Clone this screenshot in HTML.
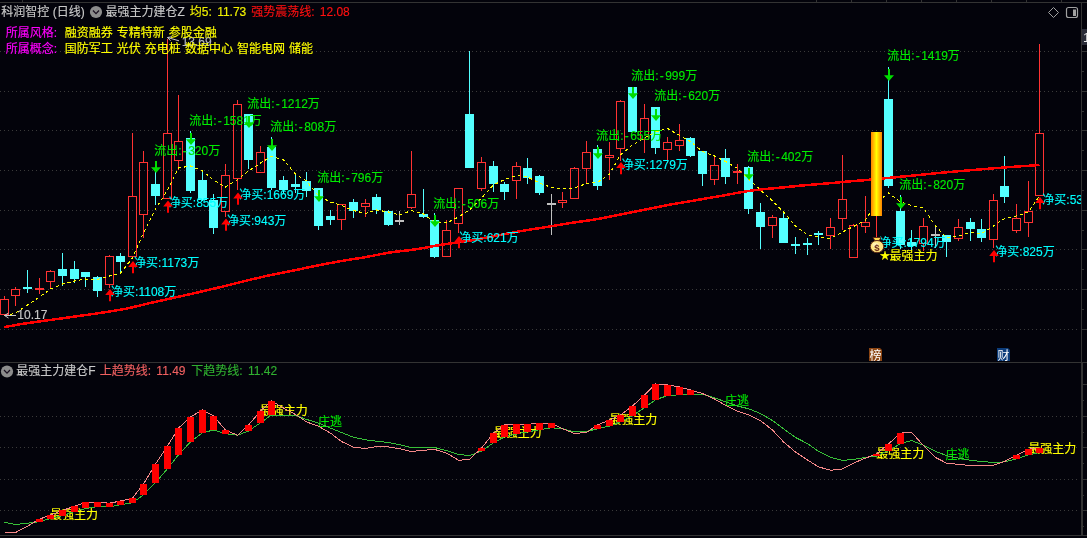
<!DOCTYPE html>
<html lang="zh-CN"><head><meta charset="utf-8"><title>科润智控 (日线)</title>
<style>
html,body{margin:0;padding:0;background:#03030b;}
body{width:1087px;height:538px;overflow:hidden;position:relative;font-family:"Liberation Sans","Noto Sans CJK SC",sans-serif;font-size:12px;}
svg text{white-space:pre;}
</style></head><body>
<svg width="1087" height="538" viewBox="0 0 1087 538" style="position:absolute;left:0;top:0" font-family='"Liberation Sans","Noto Sans CJK SC",sans-serif' font-size="12">
<rect x="0" y="0" width="1087" height="538" fill="#03030b"/>
<g stroke="#3a3a3a" stroke-width="1" stroke-dasharray="1 3" shape-rendering="crispEdges">
<line x1="0" y1="51.5" x2="1077" y2="51.5"/>
<line x1="0" y1="91.5" x2="1077" y2="91.5"/>
<line x1="0" y1="130.5" x2="1077" y2="130.5"/>
<line x1="0" y1="170.5" x2="1077" y2="170.5"/>
<line x1="0" y1="210.5" x2="1077" y2="210.5"/>
<line x1="0" y1="249.5" x2="1077" y2="249.5"/>
<line x1="0" y1="289.5" x2="1077" y2="289.5"/>
<line x1="0" y1="329.5" x2="1077" y2="329.5"/>
<line x1="0" y1="416.5" x2="1077" y2="416.5"/>
<line x1="0" y1="447.5" x2="1077" y2="447.5"/>
<line x1="0" y1="479.5" x2="1077" y2="479.5"/>
<line x1="0" y1="510.5" x2="1077" y2="510.5"/>
</g>
<g stroke="#333333" stroke-width="1" shape-rendering="crispEdges">
<line x1="0" y1="2.5" x2="1087" y2="2.5"/>
<line x1="0" y1="362.5" x2="1087" y2="362.5"/>
<line x1="0" y1="535.5" x2="1087" y2="535.5"/>
<line x1="1081.5" y1="3" x2="1081.5" y2="536"/>
<line x1="1082.5" y1="362" x2="1082.5" y2="536"/>
<line x1="22.5" y1="0" x2="22.5" y2="2"/>
<line x1="816.5" y1="0" x2="816.5" y2="2"/>
<line x1="851.5" y1="0" x2="851.5" y2="2"/>
<line x1="886.5" y1="0" x2="886.5" y2="2"/>
<line x1="921.5" y1="0" x2="921.5" y2="2"/>
<line x1="956.5" y1="0" x2="956.5" y2="2"/>
<line x1="991.5" y1="0" x2="991.5" y2="2"/>
<line x1="1026.5" y1="0" x2="1026.5" y2="2"/>
<line x1="1061.5" y1="0" x2="1061.5" y2="2"/>
<line x1="1082" y1="51.5" x2="1087" y2="51.5"/>
<line x1="1082" y1="91.5" x2="1087" y2="91.5"/>
<line x1="1082" y1="130.5" x2="1087" y2="130.5"/>
<line x1="1082" y1="170.5" x2="1087" y2="170.5"/>
<line x1="1082" y1="210.5" x2="1087" y2="210.5"/>
<line x1="1082" y1="249.5" x2="1087" y2="249.5"/>
<line x1="1082" y1="289.5" x2="1087" y2="289.5"/>
<line x1="1082" y1="329.5" x2="1087" y2="329.5"/>
<line x1="1082" y1="71.5" x2="1084" y2="71.5"/>
<line x1="1082" y1="111.5" x2="1084" y2="111.5"/>
<line x1="1082" y1="150.5" x2="1084" y2="150.5"/>
<line x1="1082" y1="190.5" x2="1084" y2="190.5"/>
<line x1="1082" y1="230.5" x2="1084" y2="230.5"/>
<line x1="1082" y1="269.5" x2="1084" y2="269.5"/>
<line x1="1082" y1="309.5" x2="1084" y2="309.5"/>
<line x1="1083" y1="384.5" x2="1087" y2="384.5"/>
<line x1="1083" y1="416.5" x2="1087" y2="416.5"/>
<line x1="1083" y1="447.5" x2="1087" y2="447.5"/>
<line x1="1083" y1="479.5" x2="1087" y2="479.5"/>
<line x1="1083" y1="510.5" x2="1087" y2="510.5"/>
<line x1="1083" y1="400.5" x2="1084" y2="400.5"/>
<line x1="1083" y1="432.5" x2="1084" y2="432.5"/>
<line x1="1083" y1="463.5" x2="1084" y2="463.5"/>
<line x1="1083" y1="495.5" x2="1084" y2="495.5"/>
<line x1="1083" y1="526.5" x2="1084" y2="526.5"/>
</g>
<rect x="1082" y="29" width="5" height="16" fill="#2a2c38"/>
<text x="1083" y="42" fill="#e8e8e8" font-size="13">11.73</text>
<g shape-rendering="crispEdges">
<rect x="4" y="296" width="1" height="3" fill="#ff3232"/>
<rect x="4" y="315" width="1" height="0" fill="#ff3232"/>
<rect x="0.5" y="299.5" width="8" height="15" fill="none" stroke="#ff3232" stroke-width="1"/>
<rect x="15" y="287" width="1" height="2" fill="#ff3232"/>
<rect x="15" y="296" width="1" height="10" fill="#ff3232"/>
<rect x="11.5" y="289.5" width="8" height="6" fill="none" stroke="#ff3232" stroke-width="1"/>
<rect x="27" y="270" width="1" height="23" fill="#54ffff"/>
<rect x="23" y="287" width="9" height="2" fill="#54ffff"/>
<rect x="39" y="278" width="1" height="16" fill="#ff3232"/>
<rect x="35" y="288" width="9" height="2" fill="#ff3232"/>
<rect x="50" y="270" width="1" height="1" fill="#ff3232"/>
<rect x="50" y="282" width="1" height="6" fill="#ff3232"/>
<rect x="46.5" y="271.5" width="8" height="10" fill="none" stroke="#ff3232" stroke-width="1"/>
<rect x="62" y="253" width="1" height="33" fill="#54ffff"/>
<rect x="58" y="269" width="9" height="7" fill="#54ffff"/>
<rect x="74" y="261" width="1" height="22" fill="#54ffff"/>
<rect x="70" y="269" width="9" height="10" fill="#54ffff"/>
<rect x="85" y="272" width="1" height="15" fill="#54ffff"/>
<rect x="81" y="272" width="9" height="5" fill="#54ffff"/>
<rect x="97" y="276" width="1" height="21" fill="#54ffff"/>
<rect x="93" y="277" width="9" height="14" fill="#54ffff"/>
<rect x="109" y="255" width="1" height="1" fill="#ff3232"/>
<rect x="109" y="285" width="1" height="3" fill="#ff3232"/>
<rect x="105.5" y="256.5" width="8" height="28" fill="none" stroke="#ff3232" stroke-width="1"/>
<rect x="120" y="253" width="1" height="20" fill="#54ffff"/>
<rect x="116" y="256" width="9" height="6" fill="#54ffff"/>
<rect x="132" y="133" width="1" height="63" fill="#ff3232"/>
<rect x="132" y="257" width="1" height="0" fill="#ff3232"/>
<rect x="128.5" y="196.5" width="8" height="60" fill="none" stroke="#ff3232" stroke-width="1"/>
<rect x="143" y="151" width="1" height="11" fill="#ff3232"/>
<rect x="143" y="215" width="1" height="23" fill="#ff3232"/>
<rect x="139.5" y="162.5" width="8" height="52" fill="none" stroke="#ff3232" stroke-width="1"/>
<rect x="155" y="161" width="1" height="44" fill="#54ffff"/>
<rect x="151" y="184" width="9" height="12" fill="#54ffff"/>
<rect x="167" y="39" width="1" height="94" fill="#ff3232"/>
<rect x="167" y="199" width="1" height="0" fill="#ff3232"/>
<rect x="163.5" y="133.5" width="8" height="65" fill="none" stroke="#ff3232" stroke-width="1"/>
<rect x="178" y="95" width="1" height="46" fill="#ff3232"/>
<rect x="178" y="161" width="1" height="9" fill="#ff3232"/>
<rect x="174.5" y="141.5" width="8" height="19" fill="none" stroke="#ff3232" stroke-width="1"/>
<rect x="190" y="131" width="1" height="62" fill="#54ffff"/>
<rect x="186" y="138" width="9" height="53" fill="#54ffff"/>
<rect x="202" y="170" width="1" height="31" fill="#54ffff"/>
<rect x="198" y="180" width="9" height="20" fill="#54ffff"/>
<rect x="213" y="194" width="1" height="40" fill="#54ffff"/>
<rect x="209" y="200" width="9" height="28" fill="#54ffff"/>
<rect x="225" y="164" width="1" height="11" fill="#ff3232"/>
<rect x="225" y="212" width="1" height="5" fill="#ff3232"/>
<rect x="221.5" y="175.5" width="8" height="36" fill="none" stroke="#ff3232" stroke-width="1"/>
<rect x="237" y="100" width="1" height="4" fill="#ff3232"/>
<rect x="237" y="179" width="1" height="11" fill="#ff3232"/>
<rect x="233.5" y="104.5" width="8" height="74" fill="none" stroke="#ff3232" stroke-width="1"/>
<rect x="248" y="114" width="1" height="55" fill="#54ffff"/>
<rect x="244" y="114" width="9" height="46" fill="#54ffff"/>
<rect x="260" y="146" width="1" height="6" fill="#ff3232"/>
<rect x="260" y="173" width="1" height="0" fill="#ff3232"/>
<rect x="256.5" y="152.5" width="8" height="20" fill="none" stroke="#ff3232" stroke-width="1"/>
<rect x="271" y="137" width="1" height="53" fill="#54ffff"/>
<rect x="267" y="147" width="9" height="41" fill="#54ffff"/>
<rect x="283" y="176" width="1" height="17" fill="#54ffff"/>
<rect x="279" y="180" width="9" height="10" fill="#54ffff"/>
<rect x="295" y="174" width="1" height="19" fill="#54ffff"/>
<rect x="291" y="184" width="9" height="3" fill="#54ffff"/>
<rect x="306" y="172" width="1" height="25" fill="#54ffff"/>
<rect x="302" y="181" width="9" height="10" fill="#54ffff"/>
<rect x="318" y="188" width="1" height="42" fill="#54ffff"/>
<rect x="314" y="188" width="9" height="38" fill="#54ffff"/>
<rect x="330" y="210" width="1" height="15" fill="#54ffff"/>
<rect x="326" y="216" width="9" height="4" fill="#54ffff"/>
<rect x="341" y="204" width="1" height="0" fill="#ff3232"/>
<rect x="341" y="220" width="1" height="10" fill="#ff3232"/>
<rect x="337.5" y="204.5" width="8" height="15" fill="none" stroke="#ff3232" stroke-width="1"/>
<rect x="353" y="199" width="1" height="19" fill="#54ffff"/>
<rect x="349" y="202" width="9" height="9" fill="#54ffff"/>
<rect x="365" y="199" width="1" height="4" fill="#ff3232"/>
<rect x="365" y="207" width="1" height="10" fill="#ff3232"/>
<rect x="361.5" y="203.5" width="8" height="3" fill="none" stroke="#ff3232" stroke-width="1"/>
<rect x="376" y="194" width="1" height="20" fill="#54ffff"/>
<rect x="372" y="197" width="9" height="13" fill="#54ffff"/>
<rect x="388" y="210" width="1" height="16" fill="#54ffff"/>
<rect x="384" y="211" width="9" height="14" fill="#54ffff"/>
<rect x="399" y="211" width="1" height="14" fill="#c0c0c0"/>
<rect x="395" y="220" width="9" height="2" fill="#c0c0c0"/>
<rect x="411" y="151" width="1" height="43" fill="#ff3232"/>
<rect x="411" y="208" width="1" height="1" fill="#ff3232"/>
<rect x="407.5" y="194.5" width="8" height="13" fill="none" stroke="#ff3232" stroke-width="1"/>
<rect x="423" y="189" width="1" height="29" fill="#54ffff"/>
<rect x="419" y="214" width="9" height="3" fill="#54ffff"/>
<rect x="434" y="213" width="1" height="45" fill="#54ffff"/>
<rect x="430" y="220" width="9" height="37" fill="#54ffff"/>
<rect x="446" y="220" width="1" height="10" fill="#ff3232"/>
<rect x="446" y="257" width="1" height="0" fill="#ff3232"/>
<rect x="442.5" y="230.5" width="8" height="26" fill="none" stroke="#ff3232" stroke-width="1"/>
<rect x="458" y="188" width="1" height="0" fill="#ff3232"/>
<rect x="458" y="224" width="1" height="9" fill="#ff3232"/>
<rect x="454.5" y="188.5" width="8" height="35" fill="none" stroke="#ff3232" stroke-width="1"/>
<rect x="469" y="51" width="1" height="117" fill="#54ffff"/>
<rect x="465" y="114" width="9" height="54" fill="#54ffff"/>
<rect x="481" y="157" width="1" height="5" fill="#ff3232"/>
<rect x="481" y="189" width="1" height="2" fill="#ff3232"/>
<rect x="477.5" y="162.5" width="8" height="26" fill="none" stroke="#ff3232" stroke-width="1"/>
<rect x="493" y="161" width="1" height="31" fill="#54ffff"/>
<rect x="489" y="166" width="9" height="18" fill="#54ffff"/>
<rect x="504" y="182" width="1" height="18" fill="#54ffff"/>
<rect x="500" y="184" width="9" height="8" fill="#54ffff"/>
<rect x="516" y="162" width="1" height="4" fill="#ff3232"/>
<rect x="516" y="181" width="1" height="18" fill="#ff3232"/>
<rect x="512.5" y="166.5" width="8" height="14" fill="none" stroke="#ff3232" stroke-width="1"/>
<rect x="527" y="158" width="1" height="26" fill="#54ffff"/>
<rect x="523" y="168" width="9" height="10" fill="#54ffff"/>
<rect x="539" y="175" width="1" height="20" fill="#54ffff"/>
<rect x="535" y="176" width="9" height="17" fill="#54ffff"/>
<rect x="551" y="194" width="1" height="41" fill="#c0c0c0"/>
<rect x="547" y="203" width="9" height="2" fill="#c0c0c0"/>
<rect x="562" y="192" width="1" height="8" fill="#ff3232"/>
<rect x="562" y="203" width="1" height="5" fill="#ff3232"/>
<rect x="558.5" y="200.5" width="8" height="2" fill="none" stroke="#ff3232" stroke-width="1"/>
<rect x="574" y="167" width="1" height="1" fill="#ff3232"/>
<rect x="574" y="199" width="1" height="0" fill="#ff3232"/>
<rect x="570.5" y="168.5" width="8" height="30" fill="none" stroke="#ff3232" stroke-width="1"/>
<rect x="586" y="141" width="1" height="11" fill="#ff3232"/>
<rect x="586" y="169" width="1" height="15" fill="#ff3232"/>
<rect x="582.5" y="152.5" width="8" height="16" fill="none" stroke="#ff3232" stroke-width="1"/>
<rect x="597" y="145" width="1" height="45" fill="#54ffff"/>
<rect x="593" y="149" width="9" height="37" fill="#54ffff"/>
<rect x="609" y="142" width="1" height="13" fill="#ff3232"/>
<rect x="609" y="158" width="1" height="22" fill="#ff3232"/>
<rect x="605.5" y="155.5" width="8" height="2" fill="none" stroke="#ff3232" stroke-width="1"/>
<rect x="620" y="100" width="1" height="1" fill="#ff3232"/>
<rect x="620" y="149" width="1" height="12" fill="#ff3232"/>
<rect x="616.5" y="101.5" width="8" height="47" fill="none" stroke="#ff3232" stroke-width="1"/>
<rect x="632" y="87" width="1" height="45" fill="#54ffff"/>
<rect x="628" y="87" width="9" height="45" fill="#54ffff"/>
<rect x="644" y="104" width="1" height="14" fill="#ff3232"/>
<rect x="644" y="140" width="1" height="13" fill="#ff3232"/>
<rect x="640.5" y="118.5" width="8" height="21" fill="none" stroke="#ff3232" stroke-width="1"/>
<rect x="655" y="107" width="1" height="47" fill="#54ffff"/>
<rect x="651" y="107" width="9" height="41" fill="#54ffff"/>
<rect x="667" y="137" width="1" height="5" fill="#ff3232"/>
<rect x="667" y="150" width="1" height="13" fill="#ff3232"/>
<rect x="663.5" y="142.5" width="8" height="7" fill="none" stroke="#ff3232" stroke-width="1"/>
<rect x="679" y="124" width="1" height="16" fill="#ff3232"/>
<rect x="679" y="146" width="1" height="5" fill="#ff3232"/>
<rect x="675.5" y="140.5" width="8" height="5" fill="none" stroke="#ff3232" stroke-width="1"/>
<rect x="690" y="137" width="1" height="20" fill="#54ffff"/>
<rect x="686" y="138" width="9" height="18" fill="#54ffff"/>
<rect x="702" y="151" width="1" height="35" fill="#54ffff"/>
<rect x="698" y="151" width="9" height="23" fill="#54ffff"/>
<rect x="714" y="157" width="1" height="8" fill="#ff3232"/>
<rect x="714" y="180" width="1" height="5" fill="#ff3232"/>
<rect x="710.5" y="165.5" width="8" height="14" fill="none" stroke="#ff3232" stroke-width="1"/>
<rect x="725" y="149" width="1" height="35" fill="#54ffff"/>
<rect x="721" y="158" width="9" height="19" fill="#54ffff"/>
<rect x="737" y="164" width="1" height="20" fill="#ff3232"/>
<rect x="733" y="171" width="9" height="2" fill="#ff3232"/>
<rect x="748" y="166" width="1" height="48" fill="#54ffff"/>
<rect x="744" y="167" width="9" height="42" fill="#54ffff"/>
<rect x="760" y="203" width="1" height="46" fill="#54ffff"/>
<rect x="756" y="212" width="9" height="15" fill="#54ffff"/>
<rect x="772" y="215" width="1" height="2" fill="#ff3232"/>
<rect x="772" y="226" width="1" height="12" fill="#ff3232"/>
<rect x="768.5" y="217.5" width="8" height="8" fill="none" stroke="#ff3232" stroke-width="1"/>
<rect x="783" y="211" width="1" height="32" fill="#54ffff"/>
<rect x="779" y="218" width="9" height="25" fill="#54ffff"/>
<rect x="795" y="237" width="1" height="17" fill="#54ffff"/>
<rect x="791" y="244" width="9" height="2" fill="#54ffff"/>
<rect x="807" y="238" width="1" height="17" fill="#54ffff"/>
<rect x="803" y="243" width="9" height="2" fill="#54ffff"/>
<rect x="818" y="231" width="1" height="14" fill="#54ffff"/>
<rect x="814" y="233" width="9" height="2" fill="#54ffff"/>
<rect x="830" y="218" width="1" height="9" fill="#ff3232"/>
<rect x="830" y="236" width="1" height="13" fill="#ff3232"/>
<rect x="826.5" y="227.5" width="8" height="8" fill="none" stroke="#ff3232" stroke-width="1"/>
<rect x="842" y="155" width="1" height="44" fill="#ff3232"/>
<rect x="842" y="219" width="1" height="11" fill="#ff3232"/>
<rect x="838.5" y="199.5" width="8" height="19" fill="none" stroke="#ff3232" stroke-width="1"/>
<rect x="853" y="224" width="1" height="1" fill="#ff3232"/>
<rect x="853" y="258" width="1" height="0" fill="#ff3232"/>
<rect x="849.5" y="225.5" width="8" height="32" fill="none" stroke="#ff3232" stroke-width="1"/>
<rect x="865" y="196" width="1" height="26" fill="#ff3232"/>
<rect x="865" y="227" width="1" height="6" fill="#ff3232"/>
<rect x="861.5" y="222.5" width="8" height="4" fill="none" stroke="#ff3232" stroke-width="1"/>
<rect x="876" y="216" width="1" height="21" fill="#ff3232"/>
<rect x="888" y="67" width="1" height="121" fill="#54ffff"/>
<rect x="884" y="99" width="9" height="87" fill="#54ffff"/>
<rect x="900" y="195" width="1" height="54" fill="#54ffff"/>
<rect x="896" y="211" width="9" height="34" fill="#54ffff"/>
<rect x="911" y="230" width="1" height="20" fill="#54ffff"/>
<rect x="907" y="242" width="9" height="4" fill="#54ffff"/>
<rect x="923" y="218" width="1" height="8" fill="#ff3232"/>
<rect x="923" y="244" width="1" height="7" fill="#ff3232"/>
<rect x="919.5" y="226.5" width="8" height="17" fill="none" stroke="#ff3232" stroke-width="1"/>
<rect x="935" y="225" width="1" height="23" fill="#c0c0c0"/>
<rect x="931" y="234" width="9" height="2" fill="#c0c0c0"/>
<rect x="946" y="235" width="1" height="22" fill="#54ffff"/>
<rect x="942" y="235" width="9" height="7" fill="#54ffff"/>
<rect x="958" y="219" width="1" height="8" fill="#ff3232"/>
<rect x="958" y="239" width="1" height="2" fill="#ff3232"/>
<rect x="954.5" y="227.5" width="8" height="11" fill="none" stroke="#ff3232" stroke-width="1"/>
<rect x="970" y="218" width="1" height="23" fill="#54ffff"/>
<rect x="966" y="222" width="9" height="7" fill="#54ffff"/>
<rect x="981" y="219" width="1" height="23" fill="#54ffff"/>
<rect x="977" y="229" width="9" height="9" fill="#54ffff"/>
<rect x="993" y="194" width="1" height="6" fill="#ff3232"/>
<rect x="993" y="240" width="1" height="8" fill="#ff3232"/>
<rect x="989.5" y="200.5" width="8" height="39" fill="none" stroke="#ff3232" stroke-width="1"/>
<rect x="1004" y="156" width="1" height="47" fill="#54ffff"/>
<rect x="1000" y="186" width="9" height="11" fill="#54ffff"/>
<rect x="1016" y="204" width="1" height="14" fill="#ff3232"/>
<rect x="1016" y="231" width="1" height="2" fill="#ff3232"/>
<rect x="1012.5" y="218.5" width="8" height="12" fill="none" stroke="#ff3232" stroke-width="1"/>
<rect x="1028" y="181" width="1" height="30" fill="#ff3232"/>
<rect x="1028" y="223" width="1" height="14" fill="#ff3232"/>
<rect x="1024.5" y="211.5" width="8" height="11" fill="none" stroke="#ff3232" stroke-width="1"/>
<rect x="1039" y="44" width="1" height="89" fill="#ff3232"/>
<rect x="1039" y="196" width="1" height="0" fill="#ff3232"/>
<rect x="1035.5" y="133.5" width="8" height="62" fill="none" stroke="#ff3232" stroke-width="1"/>
</g>
<path d="M4.4,327.1 C7.8,326.5 17.4,324.7 25,323.5 C32.6,322.3 41.7,321.2 50,320 C58.3,318.8 66.7,317.7 75,316.5 C83.3,315.3 91.7,314.3 100,313 C108.3,311.7 116.7,310.5 125,308.9 C133.3,307.2 141.7,305.0 150,303.1 C158.3,301.2 166.7,299.4 175,297.5 C183.3,295.6 191.7,293.8 200,291.9 C208.3,290.0 217.5,287.8 225,286 C232.5,284.2 237.5,282.8 245,281 C252.5,279.2 261.7,277.0 270,275.25 C278.3,273.5 286.7,272.0 295,270.25 C303.3,268.5 311.7,266.6 320,265 C328.3,263.4 337.5,261.7 345,260.4 C352.5,259.1 357.5,258.6 365,257.25 C372.5,255.9 381.7,253.8 390,252.5 C398.3,251.2 406.7,250.7 415,249.4 C423.3,248.2 430.8,246.5 440,245 C449.2,243.5 460.8,242.1 470,240.6 C479.2,239.1 486.7,237.6 495,236 C503.3,234.4 511.7,232.7 520,231.25 C528.3,229.8 536.7,228.6 545,227.25 C553.3,225.9 561.7,224.4 570,223.1 C578.3,221.8 587.5,220.7 595,219.4 C602.5,218.2 607.5,217.1 615,215.6 C622.5,214.1 631.7,212.3 640,210.6 C648.3,208.9 656.7,207.2 665,205.6 C673.3,204.0 681.7,202.7 690,201.25 C698.3,199.8 709.0,197.9 715,196.9 C721.0,195.9 720.0,196.1 726,195 C732.0,193.9 742.7,191.8 751,190.6 C759.3,189.4 767.7,188.9 776,188.1 C784.3,187.3 792.7,186.4 801,185.6 C809.3,184.8 817.7,184.2 826,183.5 C834.3,182.8 845.0,181.8 851,181.25 C857.0,180.7 855.8,180.9 862,180.4 C868.2,179.9 874.8,179.3 888,178 C901.2,176.7 928.0,174.0 941,172.8 C954.0,171.6 955.5,171.5 966,170.6 C976.5,169.7 991.8,168.4 1004,167.5 C1016.2,166.6 1033.6,165.4 1039.5,165" fill="none" stroke="#ff0000" stroke-width="2.5" shape-rendering="crispEdges"/>
<path d="M4.5,316 L15.5,313 L27.5,305 L39.5,297 L50.5,289 L62.5,284 L74.5,281 L85.5,279 L97.5,279.5 L109.5,276 L120.5,273 L132.5,258 L143.5,233 L155.5,209 L167.5,190 L178.5,168 L190.5,166 L202.5,171 L213.5,180 L225.5,187 L237.5,179.5 L248.5,171 L260.5,163 L271.5,156.5 L283.5,160 L295.5,174 L306.5,181 L318.5,196 L330.5,202 L341.5,205.5 L353.5,210.5 L365.5,213.5 L376.5,210 L388.5,212 L399.5,215 L411.5,210.5 L423.5,214 L434.5,222 L446.5,223 L458.5,217 L469.5,210 L481.5,198 L493.5,185 L504.5,179.5 L516.5,175.5 L527.5,177 L539.5,183 L551.5,187.5 L562.5,188.5 L574.5,188 L586.5,183.5 L597.5,182.5 L609.5,174 L620.5,155 L632.5,145 L644.5,138 L655.5,132 L667.5,128.5 L679.5,135.5 L690.5,141.5 L702.5,151.5 L714.5,156 L725.5,161.5 L737.5,168.5 L748.5,179 L760.5,190 L772.5,201 L783.5,212 L795.5,226 L807.5,235 L818.5,237 L830.5,238.5 L842.5,232 L853.5,226.5 L865.5,220 L876.5,203 L888.5,193 L900.5,202 L911.5,205.5 L923.5,208 L935.5,226 L946.5,237.5 L958.5,236 L970.5,232.5 L981.5,233.5 L993.5,226 L1004.5,218.5 L1016.5,216 L1028.5,212 L1039.5,196" fill="none" stroke="#ffff00" stroke-width="1" stroke-dasharray="3 3" shape-rendering="crispEdges"/>
<defs><linearGradient id="og" x1="0" x2="1" y1="0" y2="0"><stop offset="0" stop-color="#ff8000"/><stop offset="0.5" stop-color="#ffff00"/><stop offset="1" stop-color="#ff8000"/></linearGradient></defs>
<rect x="871" y="132" width="11" height="84" fill="url(#og)" shape-rendering="crispEdges"/>
<path d="M4.5,315.5 H16 M4.5,315.5 l4,-2.5 M4.5,315.5 l4,2.5" stroke="#c8c8c8" stroke-width="1" fill="none"/>
<text x="17.3" y="318.9" fill="#c8c8c8" stroke="#c8c8c8" stroke-width="0.15">10.17</text>
<path d="M167.5,37.5 L179,40.8 M167.5,37.5 l4.5,-0.8 M167.5,37.5 l3,3.2" stroke="#c8c8c8" stroke-width="1" fill="none"/>
<text x="181.7" y="45.9" fill="#b0b4c0" stroke="#b0b4c0" stroke-width="0.15">13.69</text>
<text x="154.3" y="155.0" fill="#00ea00" stroke="#00ea00" stroke-width="0.15">流出:<tspan dx="1.2">-</tspan><tspan dx="1.3">320万</tspan></text>
<text x="189.3" y="124.8" fill="#00ea00" stroke="#00ea00" stroke-width="0.15">流出:<tspan dx="1.2">-</tspan><tspan dx="1.3">1581万</tspan></text>
<text x="247.3" y="107.7" fill="#00ea00" stroke="#00ea00" stroke-width="0.15">流出:<tspan dx="1.2">-</tspan><tspan dx="1.3">1212万</tspan></text>
<text x="270.3" y="130.8" fill="#00ea00" stroke="#00ea00" stroke-width="0.15">流出:<tspan dx="1.2">-</tspan><tspan dx="1.3">808万</tspan></text>
<text x="317.3" y="181.8" fill="#00ea00" stroke="#00ea00" stroke-width="0.15">流出:<tspan dx="1.2">-</tspan><tspan dx="1.3">796万</tspan></text>
<text x="433.3" y="207.7" fill="#00ea00" stroke="#00ea00" stroke-width="0.15">流出:<tspan dx="1.2">-</tspan><tspan dx="1.3">506万</tspan></text>
<text x="596.3" y="139.8" fill="#00ea00" stroke="#00ea00" stroke-width="0.15">流出:<tspan dx="1.2">-</tspan><tspan dx="1.3">655万</tspan></text>
<text x="631.3" y="79.8" fill="#00ea00" stroke="#00ea00" stroke-width="0.15">流出:<tspan dx="1.2">-</tspan><tspan dx="1.3">999万</tspan></text>
<text x="654.3" y="99.6" fill="#00ea00" stroke="#00ea00" stroke-width="0.15">流出:<tspan dx="1.2">-</tspan><tspan dx="1.3">620万</tspan></text>
<text x="747.3" y="160.8" fill="#00ea00" stroke="#00ea00" stroke-width="0.15">流出:<tspan dx="1.2">-</tspan><tspan dx="1.3">402万</tspan></text>
<text x="887.3" y="59.6" fill="#00ea00" stroke="#00ea00" stroke-width="0.15">流出:<tspan dx="1.2">-</tspan><tspan dx="1.3">1419万</tspan></text>
<text x="899.3" y="188.8" fill="#00ea00" stroke="#00ea00" stroke-width="0.15">流出:<tspan dx="1.2">-</tspan><tspan dx="1.3">820万</tspan></text>
<text x="111.1" y="296.3" fill="#00ffff" stroke="#00ffff" stroke-width="0.15">净买:1108万</text>
<text x="134.1" y="267.0" fill="#00ffff" stroke="#00ffff" stroke-width="0.15">净买:1173万</text>
<text x="168.8" y="206.8" fill="#00ffff" stroke="#00ffff" stroke-width="0.15">净买:855万</text>
<text x="227.0" y="224.6" fill="#00ffff" stroke="#00ffff" stroke-width="0.15">净买:943万</text>
<text x="239.3" y="198.7" fill="#00ffff" stroke="#00ffff" stroke-width="0.15">净买:1669万</text>
<text x="459.3" y="241.9" fill="#00ffff" stroke="#00ffff" stroke-width="0.15">净买:621万</text>
<text x="621.8" y="168.7" fill="#00ffff" stroke="#00ffff" stroke-width="0.15">净买:1279万</text>
<text x="879.6" y="247.1" fill="#00ffff" stroke="#00ffff" stroke-width="0.15">净买:1794万</text>
<text x="995.3" y="255.9" fill="#00ffff" stroke="#00ffff" stroke-width="0.15">净买:825万</text>
<clipPath id="cr"><rect x="0" y="0" width="1081" height="538"/></clipPath>
<g clip-path="url(#cr)">
<text x="1042.3" y="203.7" fill="#00ffff" stroke="#00ffff" stroke-width="0.15">净买:535万</text>
</g>
<path d="M155,161 h2 v6.3 h4 l-5,5.7 l-5,-5.7 h4 z" fill="#00dc00"/>
<path d="M190,133 h2 v6.3 h4 l-5,5.7 l-5,-5.7 h4 z" fill="#00dc00"/>
<path d="M248,116 h2 v6.3 h4 l-5,5.7 l-5,-5.7 h4 z" fill="#00dc00"/>
<path d="M271,139 h2 v6.3 h4 l-5,5.7 l-5,-5.7 h4 z" fill="#00dc00"/>
<path d="M318,190 h2 v6.3 h4 l-5,5.7 l-5,-5.7 h4 z" fill="#00dc00"/>
<path d="M434,215 h2 v6.3 h4 l-5,5.7 l-5,-5.7 h4 z" fill="#00dc00"/>
<path d="M597,147 h2 v6.3 h4 l-5,5.7 l-5,-5.7 h4 z" fill="#00dc00"/>
<path d="M632,87 h2 v6.3 h4 l-5,5.7 l-5,-5.7 h4 z" fill="#00dc00"/>
<path d="M655,109 h2 v6.3 h4 l-5,5.7 l-5,-5.7 h4 z" fill="#00dc00"/>
<path d="M748,168 h2 v6.3 h4 l-5,5.7 l-5,-5.7 h4 z" fill="#00dc00"/>
<path d="M888,69 h2 v6.3 h4 l-5,5.7 l-5,-5.7 h4 z" fill="#00dc00"/>
<path d="M900,197 h2 v6.3 h4 l-5,5.7 l-5,-5.7 h4 z" fill="#00dc00"/>
<path d="M110,289 l4.8,6 h-3.8 v6.3 h-2 v-6.3 h-3.8 z" fill="#ff0000"/>
<path d="M133,261 l4.8,6 h-3.8 v6.3 h-2 v-6.3 h-3.8 z" fill="#ff0000"/>
<path d="M168,200.5 l4.8,6 h-3.8 v6.3 h-2 v-6.3 h-3.8 z" fill="#ff0000"/>
<path d="M226,218.5 l4.8,6 h-3.8 v6.3 h-2 v-6.3 h-3.8 z" fill="#ff0000"/>
<path d="M238,192.5 l4.8,6 h-3.8 v6.3 h-2 v-6.3 h-3.8 z" fill="#ff0000"/>
<path d="M459,236 l4.8,6 h-3.8 v6.3 h-2 v-6.3 h-3.8 z" fill="#ff0000"/>
<path d="M621,162 l4.8,6 h-3.8 v6.3 h-2 v-6.3 h-3.8 z" fill="#ff0000"/>
<path d="M994,250 l4.8,6 h-3.8 v6.3 h-2 v-6.3 h-3.8 z" fill="#ff0000"/>
<path d="M1040,197 l4.8,6 h-3.8 v6.3 h-2 v-6.3 h-3.8 z" fill="#ff0000"/>
<g>
<path d="M873,237.5 h8 l-2,3.4 h-4 z" fill="#ffd84a" stroke="#5a2814" stroke-width="1"/>
<ellipse cx="877" cy="246.6" rx="6.7" ry="6.1" fill="#ffe680" stroke="#5a2814" stroke-width="1"/>
<ellipse cx="875.5" cy="245" rx="3" ry="2.4" fill="#fff6c8" opacity="0.7"/>
<text x="877" y="250.6" text-anchor="middle" font-size="9.5" font-weight="bold" fill="#6b2a1a">$</text>
</g>
<text x="879.9" y="259.6" fill="#ffff00" stroke="#ffff00" stroke-width="0.15"><tspan font-size="10" dy="-0.5">★</tspan><tspan dy="0.5" dx="-0.5">最强主力</tspan></text>
<text x="1.3" y="15.9" fill="#c8c8c8" stroke="#c8c8c8" stroke-width="0.15">科润智控 (日线)</text>
<circle cx="96" cy="12" r="6.1" fill="#8c8c8c"/>
<path d="M93,10.5 l3,3.1 l3,-3.1" stroke="#1a1020" stroke-width="1.3" fill="none"/>
<text x="105.6" y="15.9" fill="#c8c8c8" stroke="#c8c8c8" stroke-width="0.15">最强主力建仓Z</text>
<text x="189.8" y="15.9" fill="#f0f000" stroke="#f0f000" stroke-width="0.15" word-spacing="2">均5: 11.73</text>
<text x="251.3" y="15.9" fill="#ff1010" stroke="#ff1010" stroke-width="0.15" word-spacing="1.8">强势震荡线: 12.08</text>
<text x="5.8" y="36.9" fill="#ff00ff" stroke="#ff00ff" stroke-width="0.15">所属风格:</text>
<text x="64.8" y="36.9" fill="#ffff00" stroke="#ffff00" stroke-width="0.15" word-spacing="0.7">融资融券 专精特新 参股金融</text>
<text x="5.8" y="52.9" fill="#ff00ff" stroke="#ff00ff" stroke-width="0.15">所属概念:</text>
<text x="64.8" y="52.9" fill="#ffff00" stroke="#ffff00" stroke-width="0.15" word-spacing="0.7">国防军工 光伏 充电桩 数据中心 智能电网 储能</text>
<path d="M1053.5,7.5 l5,5 l-5,5 l-5,-5 z" fill="none" stroke="#a0a0a0" stroke-width="1"/>
<rect x="1066.5" y="7.5" width="11" height="10" rx="2" fill="none" stroke="#a0a0a0" stroke-width="1.2"/>
<rect x="1073" y="9.5" width="3" height="6.5" fill="#a0a0a0"/>
<path d="M869,348 h11 l2,2 v11 h-13 z" fill="#8b4513"/>
<text x="869.5" y="359.6" fill="#ffffff">榜</text>
<path d="M997,348 h11 l2,2 v11 h-13 z" fill="#0c3c7a"/>
<text x="997.5" y="359.6" fill="#ffffff">财</text>
<circle cx="7" cy="371.5" r="6.1" fill="#8c8c8c"/>
<path d="M4,370.0 l3,3.1 l3,-3.1" stroke="#1a1020" stroke-width="1.3" fill="none"/>
<text x="16.3" y="375.2" fill="#c8c8c8" stroke="#c8c8c8" stroke-width="0.15">最强主力建仓F</text>
<text x="99.7" y="375.2" fill="#f06060" stroke="#f06060" stroke-width="0.15" word-spacing="2">上趋势线: 11.49</text>
<text x="191.3" y="375.2" fill="#30b030" stroke="#30b030" stroke-width="0.15" word-spacing="2">下趋势线: 11.42</text>
<text x="49.9" y="518.8" fill="#ffff00" stroke="#ffff00" stroke-width="0.15">最强主力</text>
<text x="259.8" y="414.8" fill="#ffff00" stroke="#ffff00" stroke-width="0.15">最强主力</text>
<text x="493.7" y="436.8" fill="#ffff00" stroke="#ffff00" stroke-width="0.15">最强主力</text>
<text x="609.3" y="423.7" fill="#ffff00" stroke="#ffff00" stroke-width="0.15">最强主力</text>
<text x="876.3" y="457.8" fill="#ffff00" stroke="#ffff00" stroke-width="0.15">最强主力</text>
<text x="1028.3" y="452.8" fill="#ffff00" stroke="#ffff00" stroke-width="0.15">最强主力</text>
<text x="318.1" y="426.2" fill="#00ea00" stroke="#00ea00" stroke-width="0.15">庄逃</text>
<text x="724.9" y="404.9" fill="#00ea00" stroke="#00ea00" stroke-width="0.15">庄逃</text>
<text x="945.5" y="459.0" fill="#00ea00" stroke="#00ea00" stroke-width="0.15">庄逃</text>
<path d="M4.5,522.25 L15.5,524.5 L27.5,523.25 L39.5,521.6 L50.5,518.5 L62.5,515.75 L74.5,511.6 L85.5,508.5 L97.5,506.6 L109.5,506.8 L120.5,504.75 L132.5,502.8 L143.5,494.75 L155.5,482.75 L167.5,468.75 L178.5,454.75 L190.5,441.9 L202.5,432.75 L213.5,430 L225.5,433.75 L237.5,435.25 L248.5,431 L260.5,422.75 L271.5,415 L283.5,415.5 L295.5,415.5 L306.5,419.4 L318.5,423.1 L330.5,428.1 L341.5,432.5 L353.5,437.25 L365.5,439.75 L376.5,441.25 L388.5,442.5 L399.5,444.75 L411.5,447.5 L423.5,447.5 L434.5,447.5 L446.5,450.6 L458.5,454.4 L469.5,455.6 L481.5,451.1 L493.5,442.75 L504.5,436.9 L516.5,433.75 L527.5,431.9 L539.5,429.75 L551.5,427.75 L562.5,428.75 L574.5,431.9 L586.5,431.5 L597.5,428.75 L609.5,426 L620.5,421.9 L632.5,415.6 L644.5,407.75 L655.5,399.75 L667.5,395.6 L679.5,394.75 L690.5,394.75 L702.5,394.2 L714.5,397.8 L725.5,401.9 L737.5,406 L748.5,408.75 L760.5,413.5 L772.5,420.6 L783.5,428.75 L795.5,437.5 L807.5,443.6 L818.5,451.4 L830.5,457.25 L842.5,460.4 L853.5,459.4 L865.5,457.5 L876.5,456 L888.5,450.6 L900.5,443.75 L911.5,440.5 L923.5,445.25 L935.5,451.25 L946.5,455.6 L958.5,458.1 L970.5,460.25 L981.5,461.5 L993.5,462.5 L1004.5,461.9 L1016.5,458.75 L1028.5,454.9 L1039.5,452.5" fill="none" stroke="#38c038" stroke-width="1" shape-rendering="crispEdges"/>
<path d="M4.5,532.5 L15.5,532.5 L27.5,526.25 L39.5,519.1 L50.5,515 L62.5,510.4 L74.5,506.25 L85.5,502.25 L97.5,502.25 L109.5,503.2 L120.5,501 L132.5,498.1 L143.5,484 L155.5,464 L167.5,446 L178.5,428.1 L190.5,416.9 L202.5,410 L213.5,416 L225.5,430 L237.5,435.25 L248.5,425 L260.5,411 L271.5,401 L283.5,408 L295.5,414.5 L306.5,421.9 L318.5,426.25 L330.5,433.1 L341.5,441.5 L353.5,447.25 L365.5,448.5 L376.5,446.5 L388.5,446.9 L399.5,448.75 L411.5,451.5 L423.5,450.25 L434.5,449.4 L446.5,453.1 L458.5,460.25 L469.5,459.4 L481.5,448.1 L493.5,433.1 L504.5,425 L516.5,424.4 L527.5,424.4 L539.5,423.1 L551.5,423.1 L562.5,428.75 L574.5,433.5 L586.5,432.5 L597.5,425 L609.5,420 L620.5,415 L632.5,406 L644.5,395 L655.5,384 L667.5,385 L679.5,386.9 L690.5,390 L702.5,393.5 L714.5,399 L725.5,405.3 L737.5,411.25 L748.5,414.75 L760.5,420.6 L772.5,430 L783.5,441.9 L795.5,452 L807.5,460 L818.5,466.9 L830.5,470.25 L842.5,469 L853.5,463.1 L865.5,458.1 L876.5,454 L888.5,444 L900.5,433.1 L911.5,432.25 L923.5,445.6 L935.5,457.5 L946.5,463.1 L958.5,464.4 L970.5,465.6 L981.5,465.6 L993.5,465.25 L1004.5,461.5 L1016.5,455.1 L1028.5,449.2 L1039.5,448.1" fill="none" stroke="#f58888" stroke-width="1" shape-rendering="crispEdges"/>
<g shape-rendering="crispEdges" fill="#ff0000">
<rect x="36" y="519.1" width="7" height="2.5"/>
<rect x="47" y="515.0" width="7" height="3.5"/>
<rect x="59" y="510.4" width="7" height="5.4"/>
<rect x="71" y="506.2" width="7" height="5.4"/>
<rect x="82" y="502.2" width="7" height="6.2"/>
<rect x="94" y="502.2" width="7" height="4.4"/>
<rect x="106" y="503.2" width="7" height="3.6"/>
<rect x="117" y="501.0" width="7" height="3.8"/>
<rect x="129" y="498.1" width="7" height="4.7"/>
<rect x="140" y="484.0" width="7" height="10.8"/>
<rect x="152" y="464.0" width="7" height="18.8"/>
<rect x="164" y="446.0" width="7" height="22.8"/>
<rect x="175" y="428.1" width="7" height="26.6"/>
<rect x="187" y="416.9" width="7" height="25.0"/>
<rect x="199" y="410.0" width="7" height="22.8"/>
<rect x="210" y="416.0" width="7" height="14.0"/>
<rect x="222" y="430.0" width="7" height="3.8"/>
<rect x="245" y="425.0" width="7" height="6.0"/>
<rect x="257" y="411.0" width="7" height="11.8"/>
<rect x="268" y="401.0" width="7" height="14.0"/>
<rect x="478" y="448.1" width="7" height="3.0"/>
<rect x="490" y="433.1" width="7" height="9.6"/>
<rect x="501" y="425.0" width="7" height="11.9"/>
<rect x="513" y="424.4" width="7" height="9.4"/>
<rect x="524" y="424.4" width="7" height="7.5"/>
<rect x="536" y="423.1" width="7" height="6.6"/>
<rect x="548" y="423.1" width="7" height="4.6"/>
<rect x="594" y="425.0" width="7" height="3.8"/>
<rect x="606" y="420.0" width="7" height="6.0"/>
<rect x="617" y="415.0" width="7" height="6.9"/>
<rect x="629" y="406.0" width="7" height="9.6"/>
<rect x="641" y="395.0" width="7" height="12.8"/>
<rect x="652" y="384.0" width="7" height="15.8"/>
<rect x="664" y="385.0" width="7" height="10.6"/>
<rect x="676" y="386.9" width="7" height="7.9"/>
<rect x="687" y="390.0" width="7" height="4.8"/>
<rect x="873" y="454.0" width="7" height="2.0"/>
<rect x="885" y="444.0" width="7" height="6.6"/>
<rect x="897" y="433.1" width="7" height="10.6"/>
<rect x="1013" y="455.1" width="7" height="3.6"/>
<rect x="1025" y="449.2" width="7" height="5.7"/>
<rect x="1036" y="448.1" width="7" height="4.4"/>
</g>
</svg>
</body></html>
